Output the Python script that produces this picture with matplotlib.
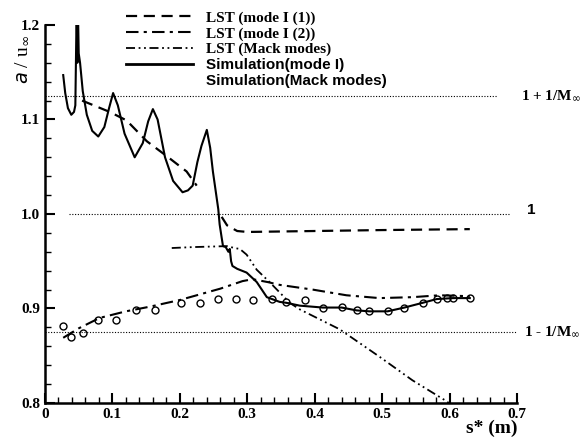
import matplotlib
matplotlib.use("Agg")
import numpy as np
import matplotlib.pyplot as plt
from matplotlib.lines import Line2D
from matplotlib.ticker import MultipleLocator, FuncFormatter

# Simulation (mode I), solid line
sim_x = [0.027, 0.030, 0.034, 0.039, 0.043, 0.045, 0.047, 0.048, 0.049, 0.050,
         0.052, 0.056, 0.062, 0.070, 0.079, 0.088, 0.095, 0.101, 0.108, 0.118,
         0.133, 0.145, 0.153, 0.160, 0.167, 0.178, 0.190, 0.204, 0.212, 0.219,
         0.226, 0.232, 0.240, 0.245, 0.249, 0.254, 0.257, 0.259, 0.262, 0.264,
         0.268, 0.272, 0.274, 0.276, 0.278, 0.285, 0.299, 0.314, 0.329, 0.348,
         0.358, 0.378, 0.412, 0.440, 0.462, 0.481, 0.508, 0.533, 0.560, 0.581,
         0.605, 0.630]
sim_y = [1.147, 1.128, 1.112, 1.105, 1.108, 1.115, 1.220, 1.160, 1.210, 1.170,
         1.160, 1.130, 1.105, 1.088, 1.082, 1.092, 1.112, 1.128, 1.115, 1.085,
         1.060, 1.075, 1.098, 1.111, 1.100, 1.060, 1.035, 1.023, 1.025, 1.030,
         1.055, 1.072, 1.089, 1.070, 1.045, 1.020, 1.005, 0.989, 0.975, 0.966,
         0.965, 0.960, 0.963, 0.950, 0.945, 0.942, 0.938, 0.928, 0.912, 0.907,
         0.906, 0.903, 0.901, 0.901, 0.898, 0.897, 0.897, 0.901, 0.906, 0.910,
         0.911, 0.911]

# Simulation (Mack modes), open circles
mack_sim_x = [0.027, 0.039, 0.056, 0.079, 0.106, 0.135, 0.163, 0.201, 0.230,
              0.257, 0.284, 0.308, 0.336, 0.358, 0.385, 0.412, 0.440, 0.462,
              0.481, 0.508, 0.533, 0.560, 0.581, 0.596, 0.605, 0.630]
mack_sim_y = [0.882, 0.870, 0.874, 0.888, 0.888, 0.898, 0.898, 0.906, 0.906,
              0.910, 0.910, 0.909, 0.910, 0.907, 0.909, 0.901, 0.902, 0.898,
              0.897, 0.897, 0.901, 0.906, 0.910, 0.911, 0.911, 0.911]

# LST mode I (1), two branches
lst1a_x = [0.055, 0.096, 0.121, 0.151, 0.181, 0.210, 0.225]
lst1a_y = [1.120, 1.108, 1.099, 1.077, 1.061, 1.045, 1.030]
lst1b_x = [0.262, 0.270, 0.285, 0.300, 0.400, 0.500, 0.630]
lst1b_y = [0.997, 0.988, 0.982, 0.981, 0.982, 0.983, 0.984]

# LST mode I (2)
lst2_x = [0.027, 0.050, 0.081, 0.120, 0.156, 0.200, 0.230, 0.260, 0.293, 0.308,
          0.330, 0.348, 0.397, 0.447, 0.496, 0.545, 0.585, 0.630]
lst2_y = [0.869, 0.879, 0.890, 0.897, 0.902, 0.909, 0.915, 0.921, 0.929, 0.931,
          0.928, 0.925, 0.920, 0.914, 0.911, 0.912, 0.914, 0.913]

# LST Mack modes
lstm_x = [0.188, 0.220, 0.270, 0.281, 0.289, 0.299, 0.314, 0.333, 0.363, 0.378,
          0.437, 0.496, 0.545, 0.593, 0.605]
lstm_y = [0.964, 0.965, 0.966, 0.964, 0.963, 0.957, 0.941, 0.928, 0.906, 0.899,
          0.878, 0.849, 0.824, 0.803, 0.797]

M_INF = 8.0
ref_levels = [1 + 1 / M_INF, 1.0, 1 - 1 / M_INF]
ref_spans = [(0.0, 0.67), (0.035, 0.69), (0.0, 0.70)]

SERIF = "Liberation Serif"
SANS = "Liberation Sans"

fig = plt.figure(figsize=(5.87, 4.43), dpi=100)
ax = fig.add_axes([45 / 587, 40 / 443, 472 / 587, 378 / 443])

dotted = (0, (1, 1.5))
for lvl, (x0, x1) in zip(ref_levels, ref_spans):
    ax.plot([x0, x1], [lvl, lvl], color="black", lw=0.8, linestyle=dotted)

dash1 = (0, (5, 3))
dash2 = (0, (6, 2.5, 1.5, 2.5))
dash3 = (0, (5, 2, 1, 2, 1, 2))

ax.plot(lst1a_x, lst1a_y, color="black", lw=1.6, linestyle=dash1)
ax.plot(lst1b_x, lst1b_y, color="black", lw=1.6, linestyle=dash1)
ax.plot(lst2_x, lst2_y, color="black", lw=1.5, linestyle=dash2)
ax.plot(lstm_x, lstm_y, color="black", lw=1.3, linestyle=dash3)
ax.plot(sim_x, sim_y, color="black", lw=1.5)
ax.plot(mack_sim_x, mack_sim_y, linestyle="none", marker="o", ms=5,
        mfc="none", mec="black", mew=1.0)

ax.set_xlim(0, 0.7)
ax.set_ylim(0.8, 1.2)
for s in ["top", "right"]:
    ax.spines[s].set_visible(False)
for s in ["left", "bottom"]:
    ax.spines[s].set_linewidth(1.8)

ax.xaxis.set_major_locator(MultipleLocator(0.1))
ax.xaxis.set_minor_locator(MultipleLocator(0.02))
ax.yaxis.set_major_locator(MultipleLocator(0.1))
ax.yaxis.set_minor_locator(MultipleLocator(0.02))
ax.xaxis.set_major_formatter(FuncFormatter(lambda v, p: "0" if abs(v) < 1e-9 else f"{v:.1f}"))
ax.yaxis.set_major_formatter(FuncFormatter(lambda v, p: f"{v:.1f}"))
ax.tick_params(which="major", direction="in", length=7, width=1.5)
ax.tick_params(which="minor", direction="in", length=4, width=1.0)
for lab in ax.get_xticklabels() + ax.get_yticklabels():
    lab.set_fontfamily(SERIF)
    lab.set_fontweight("bold")
    lab.set_fontsize(11)

# right-hand labels
fig.text(521 / 587, 1 - 96 / 443, r"1 + 1/M$_\infty$", family=SERIF, weight="bold",
         fontsize=11, va="center")
fig.text(527 / 587, 1 - 210 / 443, "1", family=SANS, weight="bold",
         fontsize=11, va="center")
fig.text(524 / 587, 1 - 332 / 443, r"1 - 1/M$_\infty$", family=SERIF, weight="bold",
         fontsize=11, va="center")

# axis titles
fig.text(22 / 587, 1 - 60 / 443, r"$a$ / u$_\infty$", family=SERIF, fontsize=14,
         rotation=90, ha="center", va="center")
fig.text(492 / 587, 1 - 428 / 443, "s* (m)", family=SERIF, weight="bold",
         fontsize=14, ha="center", va="center")

handles = [
    Line2D([], [], color="black", lw=1.6, linestyle=dash1),
    Line2D([], [], color="black", lw=1.5, linestyle=dash2),
    Line2D([], [], color="black", lw=1.3, linestyle=dash3),
    Line2D([], [], color="black", lw=2.0),
    Line2D([], [], linestyle="none"),
]
labels = ["LST (mode I (1))", "LST (mode I (2))", "LST (Mack modes)",
          "Simulation(mode I)", "Simulation(Mack modes)"]
leg = fig.legend(handles, labels, loc="upper left",
                 bbox_to_anchor=(120 / 587, 1 - 5 / 443), frameon=False,
                 handlelength=4.4, handletextpad=0.8, labelspacing=0.12,
                 borderaxespad=0, fontsize=11)
for i, t in enumerate(leg.get_texts()):
    if i < 3:
        t.set_fontfamily(SERIF)
        t.set_fontweight("bold")
    else:
        t.set_fontfamily(SANS)
        t.set_fontweight("bold")

fig.savefig("out.png", dpi=100)
